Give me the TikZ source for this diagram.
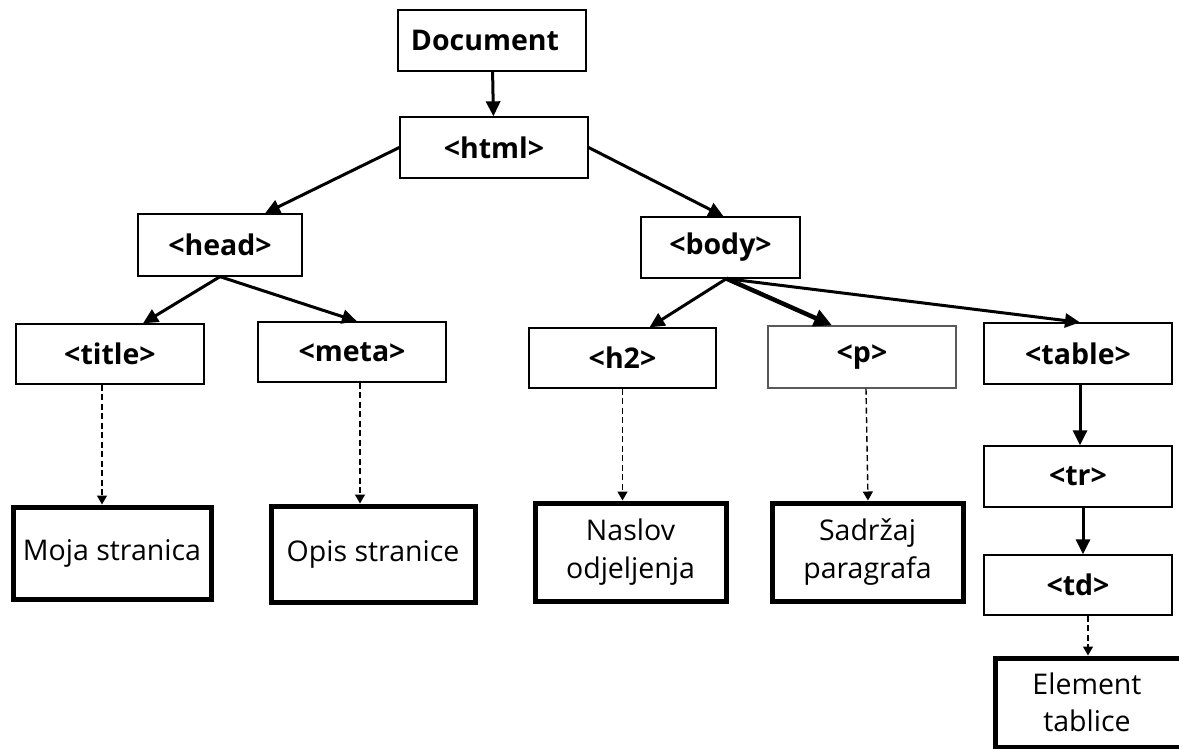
\documentclass[tikz,border=0pt]{standalone}
\usepackage{fontspec}
\setmainfont{Open Sans}
\usetikzlibrary{arrows.meta}

\tikzset{
  tagbox/.style={draw, line width=1.3pt, inner sep=0pt, minimum width=188pt, minimum height=61pt,
    font=\fontsize{28.5}{38}\selectfont\bfseries},
  leafbox/.style={draw, line width=5pt, inner sep=0pt, align=center,
    font=\fontsize{28.5}{37.5}\selectfont},
  tree/.style={line width=3pt, -{Triangle[length=15pt,width=14pt]}},
  treebold/.style={line width=4.5pt, -{Triangle[length=18pt,width=17pt]}},
  link/.style={line width=1.4pt, dash pattern=on 6pt off 3.5pt, -{Triangle[length=9pt,width=10pt]}},
}

\begin{document}
\begin{tikzpicture}[x=1pt,y=1pt,yscale=-1,xscale=1]
\useasboundingbox (0,0) rectangle (1179,749);

%Shape: Rectangle (tags)
\node [tagbox] (doc)   at (492,40.5)  {Document\hspace*{14pt}};
\node [tagbox] (html)  at (494,147.5) {<html>};
\node [tagbox, minimum width=164pt, minimum height=62pt] (head) at (220,245) {<head>};
\node [tagbox, minimum width=159pt] (body) at (720.5,247.5) {<body>};
\node [tagbox, minimum height=60pt] (title) at (110,354) {<title>};
\node [tagbox, minimum height=60pt] (meta)  at (352,352) {<meta>};
\node [tagbox, minimum width=187pt, minimum height=60pt] (h2) at (622.5,358) {<h2>};
\node [tagbox, minimum height=62pt, draw=black!65] (p) at (862,357) {<p>};
\node [tagbox] (table) at (1078,353.5) {<table>};
\node [tagbox] (tr)    at (1078,476.5) {<tr>};
\node [tagbox, minimum height=60pt] (td) at (1078,585) {<td>};

%Shape: Rectangle (texts)
\node [leafbox, minimum width=198pt, minimum height=92pt] (moja)    at (112,553)    {Moja stranica};
\node [leafbox, minimum width=204pt, minimum height=96pt] (opis)    at (373,554)    {Opis stranice};
\node [leafbox, minimum width=191pt, minimum height=98pt] (naslov)  at (630.5,552)  {Naslov\\odjeljenja};
\node [leafbox, minimum width=191pt, minimum height=98pt] (sadrzaj) at (867.5,552)  {Sadržaj\\paragrafa};
\node [leafbox, minimum width=200pt, minimum height=89pt] (element) at (1095,702.5)
  {Element\hspace*{16pt}\\tablice\hspace*{16pt}};

%Straight Lines (tree)
\coordinate (fork) at ([xshift=6pt]body.south);
\draw [tree] (doc) -- (html);
\draw [tree] (html.west) -- ([xshift=45pt]head.north);
\draw [tree] (html.east) -- ([xshift=3pt]body.north);
\draw [tree] (head.south) -- ([xshift=33pt]title.north);
\draw [tree] (head.south) -- ([xshift=5pt]meta.north);
\draw [tree] (fork) -- ([xshift=27pt]h2.north);
\draw [treebold] (fork) -- ([xshift=-30pt]p.north);
\draw [tree] (fork) -- ([xshift=2pt]table.north);
\draw [tree] ([xshift=2pt]table.south) -- ([xshift=2pt]tr.north);
\draw [tree] ([xshift=5pt]tr.south) -- ([xshift=5pt]td.north);

%Straight Lines (dashed)
\draw [link] ([xshift=-8pt]title.south) -- ([xshift=-8pt]title.south |- moja.north);
\draw [link] ([xshift=8pt]meta.south) -- ([xshift=8pt]meta.south |- opis.north);
\draw [link] (h2.south) -- (h2.south |- naslov.north);
\draw [link] ([xshift=4pt]p.south) -- ([xshift=6pt]p.south |- sadrzaj.north);
\draw [link] ([xshift=10pt]td.south) -- ([xshift=10pt]td.south |- element.north);

\end{tikzpicture}
\end{document}
